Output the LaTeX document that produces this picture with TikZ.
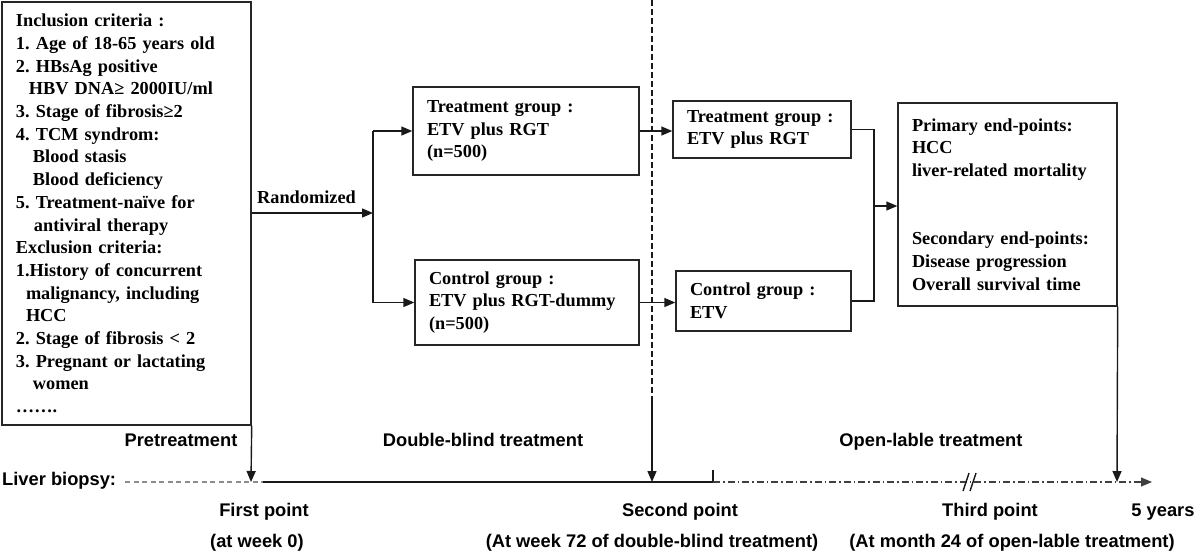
\documentclass[tikz,border=0pt]{standalone}
\usepackage{fontspec}
\setmainfont{Liberation Serif}
\newfontfamily\labsans{Liberation Sans}
\usetikzlibrary{arrows.meta}
\frenchspacing
\tikzset{
  box/.style={draw=black!85, line width=1.4pt, align=left, inner xsep=14pt, inner ysep=4pt,
    font=\bfseries\fontsize{18.3}{22.7}\selectfont},
  conn/.style={draw=black!90, line width=1.4pt},
  arr/.style={conn, -{Triangle[length=11pt,width=9pt]}},
  lab/.style={font=\labsans\bfseries\fontsize{18.3}{22}\selectfont, anchor=base, inner sep=0pt},
  slab/.style={font=\bfseries\fontsize{18.3}{22}\selectfont, anchor=base west, inner sep=0pt}
}
\begin{document}
\begin{tikzpicture}[x=1pt,y=-1pt]
\useasboundingbox (0,0) rectangle (1200,558);
% boxes
\node[box, text width=221pt, minimum width=249pt, minimum height=423pt] (incl) at (126.5,213.5) {%
Inclusion criteria :\\
1. Age of 18-65 years old\\
2. HBsAg positive\\
\hspace*{13pt}HBV DNA≥ 2000IU/ml\\
3. Stage of fibrosis≥2\\
4. TCM syndrom:\\
\hspace*{17pt}Blood stasis\\
\hspace*{17pt}Blood deficiency\\
5. Treatment-naïve for\\
\hspace*{18pt}antiviral therapy\\
Exclusion criteria:\\
1.History of concurrent\\
\hspace*{10pt}malignancy, including\\
\hspace*{10pt}HCC\\
2. Stage of fibrosis < 2\\
3. Pregnant or lactating\\
\hspace*{17pt}women\\
…….};
\node[box, text width=198pt, minimum width=226pt, minimum height=88pt] (tg1) at (526,131) {Treatment group :\\ ETV plus RGT\\ (n=500)};
\node[box, text width=196pt, minimum width=224pt, minimum height=85pt] (cg1) at (527,302.5) {Control group :\\ ETV plus RGT-dummy\\ (n=500)};
\node[box, text width=150pt, minimum width=178pt, minimum height=57pt] (tg2) at (762,129.5) {Treatment group :\\ ETV plus RGT};
\node[box, text width=147pt, minimum width=175pt, minimum height=60pt] (cg2) at (763.5,301) {Control group :\\ ETV};
\node[box, text width=191pt, minimum width=219pt, minimum height=203pt] (ep) at (1007.5,204.5) {%
Primary end-points:\\ HCC\\ liver-related mortality\\ \mbox{}\\ \mbox{}\\
Secondary end-points:\\ Disease progression\\ Overall survival time};
% coordinates
\coordinate (r) at (373,213);
\coordinate (rt) at (373,131);
\coordinate (rb) at (373,302.5);
\coordinate (m) at (874,206);
\coordinate (p1) at (251,482);
\coordinate (vtop) at (652,0);
\coordinate (vmid) at (652,400);
\coordinate (p2) at (652,482);
\coordinate (p3) at (1117,482);
\coordinate (t0) at (125,482);
\coordinate (t1) at (263,482);
\coordinate (t2) at (713,482);
\coordinate (t2top) at (713,470);
\coordinate (tend) at (1152,482);
% connectors
\draw[arr] (incl.east |- r) -- (r);
\draw[conn] (rt) -- (rb);
\draw[arr] (rt) -- (tg1.west |- rt);
\draw[arr] (rb) -- (cg1.west |- rb);
\draw[arr] (tg1.east) -- (tg1.east -| tg2.west);
\draw[arr] (cg1.east) -- (cg1.east -| cg2.west);
\draw[conn] (tg2.east) -- (tg2.east -| m) -- (cg2.east -| m) -- (cg2.east);
\draw[arr] (m) -- (m -| ep.west);
\draw[arr] (incl.south east) -- (p1);
\draw[conn, line width=1.1pt, dash pattern=on 6pt off 3pt] (vtop) -- (vmid);
\draw[arr] (vmid) -- (p2);
\draw[arr] (ep.south east) -- (p3);
% timeline
\draw[conn, draw=black!45, line width=1.2pt, dash pattern=on 5pt off 3.5pt] (t0) -- (t1);
\draw[conn] (t1) -- (t2) -- (t2top);
\draw[arr, draw=black!75, line width=1.1pt, dash pattern=on 7pt off 3pt on 1.5pt off 3pt] (t2) -- (tend);
\draw[conn, line width=1.4pt] (963,491) -- (969,473);
\draw[conn, line width=1.4pt] (970,491) -- (976,473);
% labels
\node[slab] (rand) at (257,203) {Randomized};
\node[lab] (pre) at (181,446) {Pretreatment};
\node[lab] (dbt) at (483,446) {Double-blind treatment};
\node[lab] (olt) at (931,446) {Open-lable treatment};
\node[lab, anchor=base west] (liver) at (2,485) {Liver biopsy:};
\node[lab] (fp) at (264,516) {First point};
\node[lab] (fpw) at (257,547) {(at week 0)};
\node[lab] (sp) at (680,516) {Second point};
\node[lab] (spw) at (652,547) {(At week 72 of double-blind treatment)};
\node[lab] (tp) at (990,516) {Third point};
\node[lab] (tpw) at (1012,547) {(At month 24 of open-lable treatment)};
\node[lab] (fy) at (1163,516) {5 years};
\end{tikzpicture}
\end{document}
